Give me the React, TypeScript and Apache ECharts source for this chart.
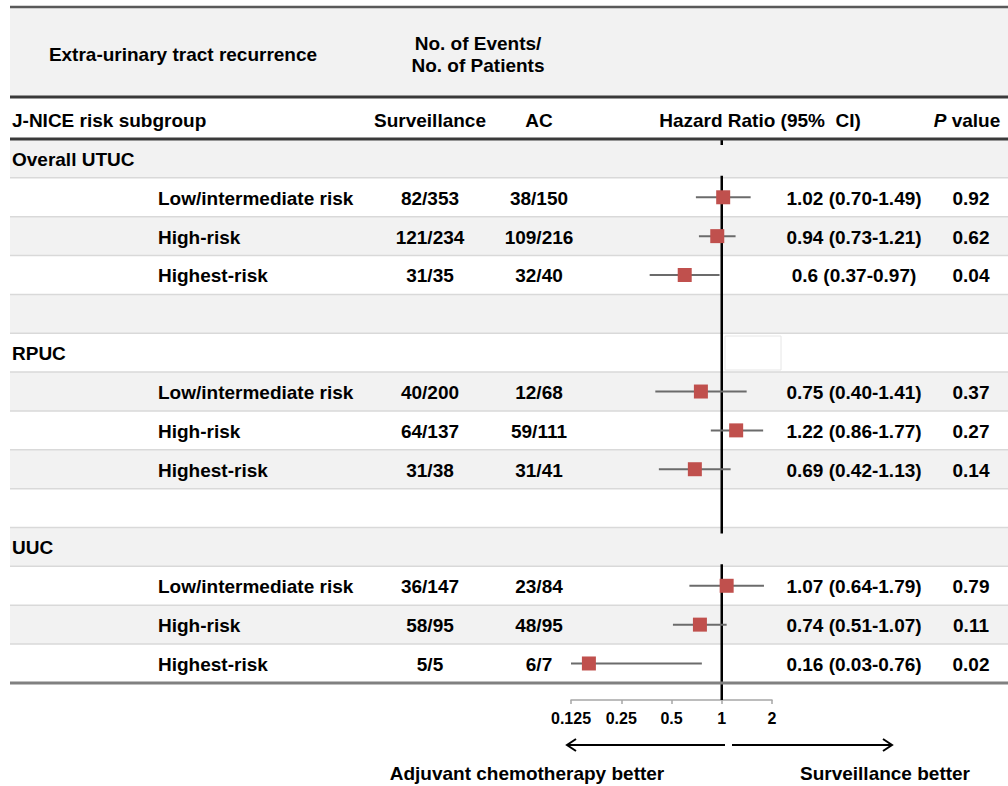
import React, { useEffect, useRef } from 'react';
import * as echarts from 'echarts';

const FONT = '"Liberation Sans", Arial, Helvetica, sans-serif';

// ---- data ----
const groupNames = ['Overall UTUC', 'RPUC', 'UUC'];
const subgroupNames = ['Low/intermediate risk', 'High-risk', 'Highest-risk'];
const survEvents = ['82/353', '121/234', '31/35', '40/200', '64/137', '31/38', '36/147', '58/95', '5/5'];
const acEvents = ['38/150', '109/216', '32/40', '12/68', '59/111', '31/41', '23/84', '48/95', '6/7'];
const hazardRatio = [1.02, 0.94, 0.6, 0.75, 1.22, 0.69, 1.07, 0.74, 0.16];
const ciLower = [0.70, 0.73, 0.37, 0.40, 0.86, 0.42, 0.64, 0.51, 0.03];
const ciUpper = [1.49, 1.21, 0.97, 1.41, 1.77, 1.13, 1.79, 1.07, 0.76];
const pValues = ['0.92', '0.62', '0.04', '0.37', '0.27', '0.14', '0.79', '0.11', '0.02'];
const tickValues = [0.125, 0.25, 0.5, 1, 2];
const tickLabels = ['0.125', '0.25', '0.5', '1', '2'];

// ---- row layout ----
type Row = { kind: 'group' | 'sub' | 'blank'; g: number; s: number };
const rows: Row[] = [];
groupNames.forEach((_, g) => {
  rows.push({ kind: 'group', g, s: -1 });
  subgroupNames.forEach((__, s) => rows.push({ kind: 'sub', g, s }));
  if (g < groupNames.length - 1) rows.push({ kind: 'blank', g, s: -1 });
});
const NROWS = rows.length;
const Y_MAX = NROWS + 0.44;
const TABLE_LEFT = 10;
const TABLE_RIGHT = 1008;

const COL = { group: 12, sub: 158, surv: 430, ac: 539, hr: 854, p: 971 };

const txt = (text: string, x: number, y: number, align: string) => ({
  type: 'text',
  style: {
    text,
    x,
    y,
    align,
    verticalAlign: 'middle',
    fontSize: 19,
    fontWeight: 'bold',
    fontFamily: FONT,
    fill: '#000',
  },
});

export default function App() {
  const ref = useRef<HTMLDivElement>(null);
  useEffect(() => {
    if (!ref.current) return;
    const chart = echarts.init(ref.current, undefined, { renderer: 'svg' });

    const rowData = rows.map((_, i) => [1, i]);
    const estData = hazardRatio.map((hr, k) => {
      const g = Math.floor(k / 3);
      const s = k % 3;
      const rowIndex = rows.findIndex((r) => r.kind === 'sub' && r.g === g && r.s === s);
      return [hr, rowIndex, ciLower[k], ciUpper[k], k];
    });

    const option: any = {
      animation: false,
      backgroundColor: '#ffffff',
      grid: { left: 571, right: 236, top: 139, bottom: 86, containLabel: false },
      xAxis: {
        type: 'log',
        logBase: 2,
        min: 0.125,
        max: 2,
        interval: 1,
        position: 'bottom',
        axisLine: { show: true, onZero: false, lineStyle: { color: '#a6a6a6', width: 1.5 } },
        axisTick: { show: true, length: 4, lineStyle: { color: '#a6a6a6', width: 1.5 } },
        minorTick: { show: false },
        splitLine: { show: false },
        axisLabel: {
          fontSize: 16,
          fontWeight: 'bold',
          fontFamily: FONT,
          color: '#000',
          margin: 10,
          showMinLabel: true,
          showMaxLabel: true,
          formatter: (v: number) => {
            const i = tickValues.findIndex((t) => Math.abs(t - v) < 1e-6);
            return i >= 0 ? tickLabels[i] : '';
          },
        },
      },
      yAxis: { type: 'value', min: 0, max: Y_MAX, inverse: true, show: false },
      series: [
        {
          type: 'custom',
          name: 'rowBackground',
          z: 1,
          silent: true,
          data: rowData,
          encode: { x: 0, y: 1 },
          renderItem: (params: any, api: any) => {
            const i = api.value(1);
            const y0 = api.coord([1, i])[1];
            const y1 = api.coord([1, i + 1])[1];
            const children: any[] = [
              {
                type: 'rect',
                shape: { x: TABLE_LEFT, y: y0, width: TABLE_RIGHT - TABLE_LEFT, height: y1 - y0 },
                style: { fill: i % 2 === 0 ? '#f2f2f2' : '#ffffff' },
              },
            ];
            if (i > 0) {
              children.push({
                type: 'line',
                shape: { x1: TABLE_LEFT, y1: y0, x2: TABLE_RIGHT, y2: y0 },
                style: { stroke: '#d9d9d9', lineWidth: 1.5 },
              });
            }
            return { type: 'group', children };
          },
        },
        {
          type: 'custom',
          name: 'referenceLine',
          z: 2,
          silent: true,
          data: [[1, 0]],
          encode: { x: 0, y: 1 },
          renderItem: (params: any, api: any) => {
            const top = api.coord([1, 0]);
            const bot = api.coord([1, Y_MAX]);
            return {
              type: 'line',
              shape: { x1: top[0], y1: top[1], x2: bot[0], y2: bot[1] },
              style: { stroke: '#000', lineWidth: 2.5 },
            };
          },
        },
        {
          type: 'custom',
          name: 'groupRowCover',
          z: 3,
          silent: true,
          data: rowData.filter((_, i) => rows[i].kind === 'group' && i % 2 === 0),
          encode: { x: 0, y: 1 },
          renderItem: (params: any, api: any) => {
            const i = api.value(1);
            const y0 = api.coord([1, i])[1];
            const y1 = api.coord([1, i + 1])[1];
            const cx = api.coord([1, i])[0];
            return {
              type: 'rect',
              shape: { x: cx - 60, y: y0 + 6, width: 120, height: y1 - y0 - 8 },
              style: { fill: '#f2f2f2' },
            };
          },
        },
        {
          type: 'custom',
          name: 'tableText',
          z: 4,
          silent: true,
          data: rowData,
          encode: { x: 0, y: 1 },
          renderItem: (params: any, api: any) => {
            const i = api.value(1);
            const yc = (api.coord([1, i])[1] + api.coord([1, i + 1])[1]) / 2 + 1;
            const r = rows[i];
            const children: any[] = [];
            if (r.kind === 'group') {
              children.push(txt(groupNames[r.g], COL.group, yc, 'left'));
            } else if (r.kind === 'sub') {
              const k = r.g * 3 + r.s;
              children.push(txt(subgroupNames[r.s], COL.sub, yc, 'left'));
              children.push(txt(survEvents[k], COL.surv, yc, 'center'));
              children.push(txt(acEvents[k], COL.ac, yc, 'center'));
              children.push(
                txt(`${hazardRatio[k]} (${ciLower[k].toFixed(2)}-${ciUpper[k].toFixed(2)})`, COL.hr, yc, 'center')
              );
              children.push(txt(pValues[k], COL.p, yc, 'center'));
            }
            return { type: 'group', children };
          },
        },
        {
          type: 'custom',
          name: 'forest',
          z: 5,
          silent: true,
          data: estData,
          encode: { x: [0, 2, 3], y: 1 },
          renderItem: (params: any, api: any) => {
            const cs = params.coordSys;
            const row = api.value(1);
            const yMid = (api.coord([1, row])[1] + api.coord([1, row + 1])[1]) / 2;
            const pt = api.coord([api.value(0), row]);
            const lo = api.coord([api.value(2), row])[0];
            const hi = api.coord([api.value(3), row])[0];
            const xl = Math.max(cs.x, lo);
            const xh = Math.min(cs.x + cs.width, hi);
            const size = 14;
            return {
              type: 'group',
              children: [
                {
                  type: 'line',
                  shape: { x1: xl, y1: yMid, x2: xh, y2: yMid },
                  style: { stroke: '#6b6b6b', lineWidth: 2 },
                },
                {
                  type: 'rect',
                  shape: { x: pt[0] - size / 2, y: yMid - size / 2, width: size, height: size },
                  style: { fill: '#c0504d' },
                },
              ],
            };
          },
        },
        {
          type: 'custom',
          name: 'tableRules',
          z: 6,
          silent: true,
          data: [[1, 0], [1, NROWS]],
          encode: { x: 0, y: 1 },
          renderItem: (params: any, api: any) => {
            const i = api.value(1);
            const y = api.coord([1, i])[1];
            return {
              type: 'line',
              shape: { x1: TABLE_LEFT, y1: y, x2: TABLE_RIGHT, y2: y },
              style: { stroke: i === 0 ? '#3a3a3a' : '#808080', lineWidth: 3 },
            };
          },
        },
      ],
      graphic: [
        {
          type: 'rect',
          z: 10,
          shape: { x: TABLE_LEFT, y: 8, width: TABLE_RIGHT - TABLE_LEFT, height: 88 },
          style: { fill: '#f2f2f2' },
          silent: true,
        },
        {
          type: 'line',
          z: 11,
          shape: { x1: TABLE_LEFT, y1: 7, x2: TABLE_RIGHT, y2: 7 },
          style: { stroke: '#595959', lineWidth: 2.5 },
          silent: true,
        },
        {
          type: 'line',
          z: 11,
          shape: { x1: TABLE_LEFT, y1: 97, x2: TABLE_RIGHT, y2: 97 },
          style: { stroke: '#3a3a3a', lineWidth: 3 },
          silent: true,
        },
        { ...txt('Extra-urinary tract recurrence', 183, 54, 'center'), z: 12 },
        { ...txt('No. of Events/', 478, 43, 'center'), z: 12 },
        { ...txt('No. of Patients', 478, 65, 'center'), z: 12 },
        { ...txt('J-NICE risk subgroup', 12, 120, 'left'), z: 12 },
        { ...txt('Surveillance', COL.surv, 120, 'center'), z: 12 },
        { ...txt('AC', COL.ac, 120, 'center'), z: 12 },
        { ...txt('Hazard Ratio (95%  CI)', 760, 120, 'center'), z: 12 },
        {
          type: 'text',
          z: 12,
          style: {
            text: '{i|P} value',
            x: 967,
            y: 120,
            align: 'center',
            verticalAlign: 'middle',
            fontSize: 19,
            fontWeight: 'bold',
            fontFamily: FONT,
            fill: '#000',
            rich: {
              i: { fontStyle: 'italic', fontSize: 19, fontWeight: 'bold', fontFamily: FONT, fill: '#000' },
            },
          },
        },
        {
          type: 'rect',
          z: 12,
          shape: { x: 725, y: 336, width: 56, height: 34 },
          style: { fill: '#ffffff', stroke: '#e6e6e6', lineWidth: 1 },
          silent: true,
        },
        // direction arrows
        {
          type: 'polyline',
          z: 12,
          shape: { points: [[725, 745], [567, 745]] },
          style: { stroke: '#000', lineWidth: 2, fill: 'none' },
        },
        {
          type: 'polyline',
          z: 12,
          shape: { points: [[576, 739], [567, 745], [576, 751]] },
          style: { stroke: '#000', lineWidth: 2, fill: 'none' },
        },
        {
          type: 'polyline',
          z: 12,
          shape: { points: [[732, 745], [892, 745]] },
          style: { stroke: '#000', lineWidth: 2, fill: 'none' },
        },
        {
          type: 'polyline',
          z: 12,
          shape: { points: [[883, 739], [892, 745], [883, 751]] },
          style: { stroke: '#000', lineWidth: 2, fill: 'none' },
        },
        { ...txt('Adjuvant chemotherapy better', 527, 773, 'center'), z: 12 },
        { ...txt('Surveillance better', 885, 773, 'center'), z: 12 },
      ],
    };

    chart.setOption(option);
    return () => chart.dispose();
  }, []);

  return (
    <div
      ref={ref}
      style={{ position: 'fixed', left: 0, top: 0, width: 1008, height: 786, background: '#fff' }}
    />
  );
}
